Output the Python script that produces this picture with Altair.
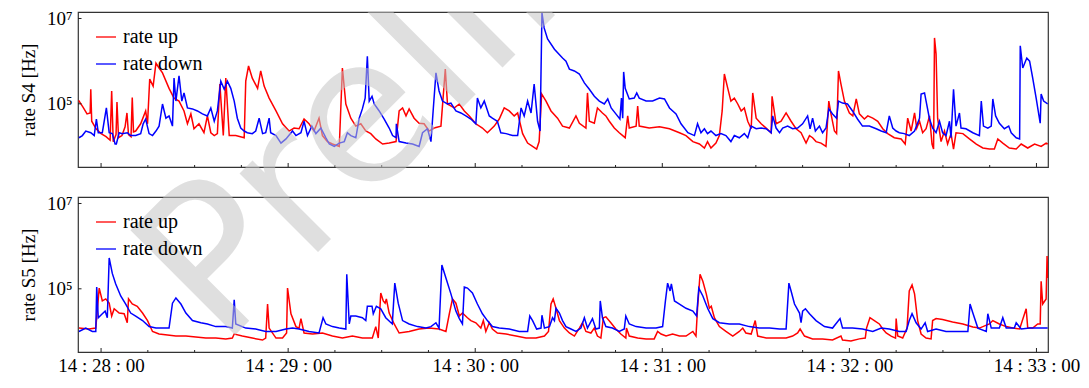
import base64
import altair as alt
import pandas as pd

# ---------------- data (seconds after 14:28:00, rate in Hz) ----------------
S4_UP_T = [-7.2, -5.8, -4.5, -3.5, -3.3, -3.0, -1.6, 0.0, 1.6, 2.9, 3.4, 3.9, 4.8, 5.1, 5.6, 6.7, 7.7, 8.3, 8.8, 9.6,
           10.0, 10.4, 11.1, 12.7, 14.3, 14.9, 15.6, 16.7, 17.6, 18.6, 19.7, 21.8, 23.4, 25.0, 26.6, 27.7, 28.8, 29.8,
           31.4, 33.0, 34.1, 35.2, 36.3, 37.3, 38.1, 39.2, 40.0, 41.1, 43.2, 45.9, 46.4, 47.3, 48.5, 50.2, 51.2, 52.3,
           53.9, 56.1, 58.2, 60.3, 61.9, 63.5, 65.1, 66.7, 68.3, 69.9, 71.0, 72.6, 74.2, 76.4, 77.4, 78.5, 80.1, 81.7,
           83.3, 84.9, 86.5, 88.1, 90.3, 92.4, 94.6, 95.6, 96.7, 97.8, 98.8, 100.4, 102.0, 103.6, 105.2, 106.8, 109.0,
           110.4, 111.1, 113.3, 114.9, 116.5, 118.1, 120.2, 122.3, 123.9, 126.1, 127.7, 129.3, 130.9, 132.5, 133.6,
           135.2, 136.8, 138.4, 139.7, 140.5, 141.3, 142.7, 144.3, 146.4, 148.0, 150.2, 152.3, 153.4, 155.5, 156.0,
           156.6, 158.2, 159.2, 160.8, 161.9, 163.0, 164.6, 166.2, 167.3, 168.1, 168.9, 169.4, 171.6, 172.1, 172.6,
           175.8, 179.1, 182.3, 185.5, 187.6, 189.8, 191.9, 193.5, 194.5, 195.6, 197.2, 198.3, 199.2, 199.9, 201.0,
           202.0, 203.1, 204.2, 205.3, 206.3, 207.4, 208.5, 209.0, 210.1, 211.7, 213.3, 214.9, 215.2, 216.5, 218.1,
           219.7, 221.3, 222.9, 224.5, 226.1, 227.2, 228.2, 229.3, 230.9, 232.5, 233.4, 234.1, 235.2, 235.9, 236.5,
           237.3, 238.4, 240.0, 241.1, 242.2, 243.2, 244.8, 245.9, 247.5, 249.1, 250.7, 252.3, 254.4, 256.6, 257.9,
           258.7, 259.8, 260.9, 261.6, 262.5, 263.5, 264.6, 265.7, 266.5, 267.0, 267.3, 267.8, 268.3, 269.4, 270.5,
           271.5, 272.6, 273.4, 274.2, 276.4, 278.5, 280.7, 282.8, 284.9, 286.5, 287.6, 289.2, 291.3, 293.5, 295.1,
           297.2, 299.4, 301.5, 303.1, 303.6]
S4_UP_RATE = [1.2e5, 8.4e4, 5.8e4, 6.1e4, 2.2e5, 3.9e4, 2.6e4, 2.0e4, 1.7e4, 1.4e4, 2.0e5, 1.3e4, 1.9e4, 1.1e5, 1.6e4,
              1.8e4, 2.9e4, 6.1e4, 1.9e4, 1.7e4, 1.4e5, 2.2e4, 2.3e4, 3.4e4, 6.8e4, 3.4e4, 3.8e5, 2.6e5, 9.0e5, 6.9e5,
              5.3e5, 2.3e5, 1.36e5, 1.16e5, 6.8e4, 3.4e4, 5.8e4, 2.6e4, 3.4e4, 2.1e4, 5.2e4, 2.1e4, 1.8e4, 2.0e4,
              2.9e5, 1.8e4, 4.0e5, 1.8e4, 1.8e4, 1.6e4, 3.4e5, 7.7e5, 4.0e5, 2.3e5, 5.9e5, 2.6e5, 1.36e5, 6.8e4,
              3.4e4, 2.3e4, 2.7e4, 2.6e4, 4.4e4, 3.4e4, 2.3e4, 4.6e4, 1.8e4, 1.3e4, 1.14e4, 1.0e4, 6.9e5, 9.9e4,
              4.6e4, 3.0e4, 3.4e4, 2.3e4, 2.0e4, 1.5e4, 1.14e4, 1.2e4, 1.3e4, 6.8e4, 8.0e4, 5.2e4, 7.6e4, 4.6e4,
              3.5e4, 3.4e4, 2.3e4, 2.7e4, 3.0e4, 6.5e5, 9.9e4, 8.0e4, 9.9e4, 6.8e4, 5.2e4, 3.4e4, 2.7e4, 2.1e4,
              3.0e4, 4.4e4, 8.0e4, 6.8e4, 5.2e4, 6.1e4, 2.0e4, 1.2e4, 1.0e4, 8.7e3, 1.3e4, 1.7e5, 1.16e5, 6.8e4,
              4.6e4, 3.0e4, 2.7e4, 5.2e4, 3.5e4, 2.7e4, 1.8e5, 3.9e4, 3.5e4, 8.0e4, 6.1e4, 5.2e4, 3.9e4, 2.7e4,
              2.1e4, 1.8e4, 1.6e4, 5.2e4, 2.7e4, 3.0e4, 8.9e4, 3.0e4, 2.7e4, 2.9e4, 2.6e4, 2.1e4, 1.8e4, 1.3e4,
              1.14e4, 9.2e3, 1.3e4, 9.2e3, 1.2e4, 1.8e4, 6.8e4, 5.0e5, 2.3e5, 1.16e5, 1.36e5, 9.9e4, 6.8e4, 8.0e4,
              3.9e4, 2.6e4, 1.8e5, 4.6e4, 3.4e4, 2.7e4, 2.1e4, 1.5e5, 3.4e4, 3.9e4, 6.1e4, 3.9e4, 2.6e4, 2.1e4,
              1.2e4, 1.8e4, 1.6e4, 1.3e4, 1.2e4, 1.0e4, 1.16e5, 5.8e4, 2.3e4, 2.0e4, 5.9e5, 2.9e5, 1.16e5, 6.1e4,
              5.2e4, 1.3e5, 5.8e4, 4.4e4, 5.2e4, 4.6e4, 3.9e4, 2.6e4, 2.0e4, 1.6e4, 1.5e4, 1.14e4, 4.6e4, 2.3e4,
              6.1e4, 2.7e4, 3.9e4, 2.1e4, 2.6e4, 5.2e4, 1.14e4, 8.7e3, 3.5e6, 1.47e6, 4.6e4, 1.3e4, 2.3e4, 1.14e4,
              2.0e4, 8.7e3, 2.1e4, 2.0e4, 1.5e4, 1.14e4, 9.2e3, 8.7e3, 8.7e3, 1.5e4, 1.2e4, 9.2e3, 8.7e3, 1.14e4,
              9.2e3, 1.14e4, 1.0e4, 1.2e4, 1.14e4]

S4_DOWN_T = [-7.1, -6.0, -4.9, -3.3, -2.2, -1.5, -0.9, 0.4, 1.7, 2.6, 3.6, 4.5, 4.9, 5.8, 6.8, 8.4, 9.5, 11.1, 12.7,
             13.5, 14.3, 15.4, 16.5, 17.6, 18.6, 19.7, 20.8, 21.8, 22.9, 23.4, 24.0, 25.0, 25.9, 26.6, 27.7, 29.3,
             30.9, 32.5, 34.1, 35.2, 36.3, 37.3, 38.4, 39.5, 40.5, 41.6, 42.7, 43.7, 44.8, 45.9, 46.9, 48.5, 49.6,
             50.7, 51.8, 52.8, 53.9, 54.4, 56.1, 57.7, 59.3, 61.4, 62.5, 64.1, 65.1, 66.2, 67.6, 68.9, 70.5, 72.1,
             73.2, 74.8, 76.4, 78.0, 79.0, 80.1, 81.7, 82.8, 83.8, 84.7, 85.4, 86.0, 86.9, 87.6, 89.2, 90.8, 92.4,
             93.5, 94.6, 94.7, 95.6, 97.8, 99.9, 102.0, 103.1, 104.7, 105.8, 106.5, 107.4, 108.4, 109.5, 111.1,
             112.2, 113.8, 115.4, 117.0, 118.6, 120.2, 120.7, 121.8, 122.9, 124.5, 125.5, 127.1, 128.2, 129.9, 132.0,
             133.6, 134.7, 135.7, 136.8, 137.9, 138.9, 140.0, 140.8, 141.4, 142.1, 143.2, 145.4, 148.0, 149.1, 150.2,
             151.8, 153.4, 155.0, 156.6, 158.2, 159.8, 161.4, 162.5, 163.6, 165.1, 166.4, 166.9, 167.3, 167.6, 168.1,
             169.4, 171.0, 171.8, 172.6, 174.8, 176.9, 179.1, 180.7, 182.3, 184.4, 186.0, 188.2, 190.3, 191.3, 192.4,
             193.5, 194.5, 195.6, 197.2, 198.8, 200.4, 202.0, 203.1, 204.7, 206.3, 207.4, 208.5, 210.1, 211.7, 213.3,
             214.9, 215.4, 216.5, 217.6, 218.6, 220.2, 221.8, 223.4, 225.0, 226.6, 227.4, 228.2, 229.1, 230.4, 231.4,
             232.5, 233.4, 234.6, 235.9, 236.5, 237.8, 239.4, 241.0, 242.6, 244.2, 246.4, 248.6, 250.2, 251.8, 252.8,
             253.9, 255.0, 256.0, 257.6, 259.2, 260.9, 262.5, 263.0, 264.1, 264.6, 265.7, 266.7, 267.8, 268.9, 269.9,
             271.0, 272.1, 272.6, 273.4, 274.2, 275.3, 275.8, 277.4, 279.6, 281.7, 282.3, 283.0, 284.4, 285.5, 286.0,
             286.9, 288.1, 289.7, 291.1, 291.9, 293.5, 294.6, 294.8, 295.6, 296.9, 297.8, 298.8, 299.9, 301.2, 301.5,
             302.3, 303.6]
S4_DOWN_RATE = [1.6e4, 1.8e4, 2.3e4, 2.1e4, 1.8e4, 4.4e4, 2.1e4, 2.1e4, 8.0e4, 2.1e4, 2.0e4, 1.14e4, 1.14e4, 2.1e4,
                2.0e4, 2.1e4, 1.8e4, 1.8e4, 2.0e4, 3.4e4, 4.4e4, 2.0e4, 1.8e4, 2.3e4, 3.0e4, 9.9e4, 4.6e4, 5.2e4,
                3.0e4, 4.0e5, 1.16e5, 4.5e5, 1.16e5, 1.8e5, 8.0e4, 7.6e4, 6.8e4, 5.8e4, 5.2e4, 8.0e4, 3.9e4, 6.8e4,
                3.4e5, 2.2e5, 3.4e5, 2.3e5, 1.16e5, 4.6e4, 2.7e4, 2.3e4, 2.1e4, 2.0e4, 2.3e4, 4.6e4, 2.0e4, 2.1e4,
                4.6e4, 2.1e4, 1.8e4, 1.2e4, 1.5e4, 2.3e4, 1.8e4, 2.1e4, 3.9e4, 1.8e4, 3.0e4, 2.0e4, 2.7e4, 1.6e4,
                1.14e4, 1.0e4, 1.2e4, 1.3e4, 2.1e4, 1.8e4, 1.6e4, 4.6e4, 7.6e4, 1.36e5, 1.3e6, 1.16e5, 1.5e5, 9.9e4,
                6.8e4, 4.4e4, 2.7e4, 1.8e4, 1.6e4, 3.4e4, 1.3e4, 1.2e4, 1.14e4, 1.0e4, 2.1e4, 2.6e4, 1.3e4, 6.8e4,
                5.3e5, 2.0e5, 1.16e5, 9.9e4, 1.04e5, 6.8e4, 6.1e4, 5.2e4, 4.4e4, 3.4e4, 1.36e5, 8.0e4, 1.16e5,
                5.2e4, 4.6e4, 3.9e4, 2.1e4, 2.0e4, 1.8e4, 1.8e4, 8.0e4, 5.2e4, 1.16e5, 6.1e4, 2.9e5, 3.9e4, 2.3e4,
                1.35e7, 6.0e6, 3.3e6, 1.9e6, 1.18e6, 1.0e6, 6.5e5, 5.9e5, 5.0e5, 3.1e5, 2.2e5, 1.5e5, 1.16e5, 9.9e4,
                1.3e5, 8.0e4, 5.8e4, 4.4e4, 1.36e5, 4.6e4, 5.6e5, 2.3e5, 1.3e5, 1.36e5, 1.8e5, 1.36e5, 1.16e5,
                1.16e5, 1.36e5, 1.3e5, 8.0e4, 5.8e4, 3.4e4, 2.1e4, 1.8e4, 3.4e4, 2.1e4, 2.6e4, 2.0e4, 2.3e4, 1.8e4,
                2.0e4, 1.8e4, 1.3e4, 1.8e4, 1.6e4, 2.0e4, 1.6e4, 3.0e4, 2.6e4, 2.7e4, 2.6e4, 2.1e4, 5.2e4, 2.7e4,
                2.1e4, 2.7e4, 3.0e4, 2.6e4, 2.7e4, 3.4e4, 5.2e4, 2.6e4, 4.6e4, 2.3e4, 3.0e4, 2.1e4, 2.7e4, 7.6e4,
                5.8e4, 4.6e4, 1.16e5, 1.04e5, 9.9e4, 6.8e4, 4.4e4, 3.0e4, 3.0e4, 2.6e4, 2.3e4, 2.1e4, 5.2e4, 2.7e4,
                2.3e4, 2.1e4, 2.0e4, 1.8e4, 2.3e4, 4.6e4, 1.7e5, 1.8e5, 1.16e5, 4.4e4, 2.7e4, 2.1e4, 3.9e4, 2.1e4,
                1.8e4, 3.9e4, 1.6e4, 2.2e5, 3.0e4, 6.1e4, 2.7e4, 2.6e4, 2.1e4, 1.8e4, 1.16e5, 3.0e4, 2.7e4, 3.0e4,
                1.3e5, 5.2e4, 3.5e4, 2.6e4, 3.0e4, 2.1e4, 1.6e4, 1.5e4, 2.3e6, 6.9e5, 1.18e6, 1.0e6, 4.0e5, 1.36e5,
                3.5e4, 1.7e5, 1.16e5, 9.9e4]

S5_UP_T = [-7.1, -3.9, -1.7, -0.6, 0.4, 1.5, 2.6, 3.4, 4.2, 5.8, 7.4, 8.4, 8.8, 10.0, 11.6, 13.3, 14.9, 16.5, 18.6,
           21.3, 24.0, 27.2, 30.4, 33.6, 36.8, 40.0, 42.1, 42.7, 45.3, 48.5, 51.8, 52.8, 53.4, 53.9, 56.1, 58.2, 59.5,
           59.8, 60.9, 62.5, 63.5, 64.1, 65.1, 67.8, 71.0, 74.2, 77.4, 80.6, 83.8, 87.0, 88.1, 88.9, 89.7, 90.5, 91.1,
           91.5, 92.4, 94.0, 95.6, 98.8, 102.0, 105.2, 108.4, 110.6, 111.7, 112.7, 113.8, 114.9, 115.9, 117.5, 118.6,
           120.2, 121.8, 122.6, 123.4, 124.5, 125.5, 127.1, 129.9, 133.1, 136.3, 139.5, 142.2, 143.5, 144.3, 145.0,
           145.9, 147.0, 148.6, 150.2, 151.8, 153.4, 154.4, 155.5, 157.1, 158.2, 159.2, 160.3, 161.1, 161.9, 163.5,
           165.1, 166.7, 168.3, 168.5, 169.4, 172.1, 174.8, 177.4, 178.5, 179.6, 181.2, 183.3, 185.5, 187.6, 189.8,
           190.8, 191.3, 192.1, 193.0, 194.1, 195.1, 195.7, 196.7, 198.3, 200.4, 202.6, 204.7, 205.8, 206.8, 208.5,
           209.8, 210.6, 213.3, 216.5, 219.7, 221.8, 223.4, 224.2, 225.6, 228.2, 231.4, 234.6, 237.3, 237.8, 240.5,
           243.2, 245.1, 245.5, 246.6, 248.0, 249.6, 250.7, 251.8, 253.4, 254.8, 255.0, 255.5, 257.1, 258.5, 259.2,
           260.1, 260.9, 261.9, 263.0, 264.6, 266.2, 266.7, 267.8, 269.9, 273.1, 276.4, 279.6, 281.7, 284.9, 286.0,
           288.1, 290.3, 292.4, 294.6, 296.7, 297.2, 298.8, 300.4, 301.2, 301.5, 302.0, 303.1, 303.4, 303.6]
S5_UP_RATE = [1.2e4, 1.14e4, 1.2e4, 1.04e5, 5.2e4, 5.8e4, 4.6e4, 2.3e4, 3.4e4, 2.7e4, 2.6e4, 1.6e4, 5.8e4, 4.4e4,
              3.9e4, 2.7e4, 1.8e4, 1.0e4, 8.7e3, 8.3e3, 7.8e3, 7.8e3, 7.4e3, 7.0e3, 7.0e3, 6.7e3, 7.0e3, 8.7e3,
              7.8e3, 7.0e3, 6.3e3, 7.0e3, 4.4e4, 1.2e4, 7.0e3, 7.0e3, 9.2e3, 1.04e5, 2.6e4, 1.3e4, 1.2e4, 2.0e4,
              9.2e3, 8.7e3, 9.2e3, 7.8e3, 7.0e3, 7.8e3, 7.0e3, 7.0e3, 1.3e4, 7.0e3, 8.0e4, 5.2e4, 4.6e4, 5.8e4,
              2.7e4, 1.5e4, 9.2e3, 1.0e4, 1.14e4, 1.2e4, 1.14e4, 1.0e4, 2.6e4, 5.8e4, 4.6e4, 2.3e4, 2.7e4, 2.1e4,
              1.8e4, 1.6e4, 1.2e4, 1.8e4, 1.0e4, 1.6e4, 1.14e4, 9.2e3, 8.7e3, 7.8e3, 7.0e3, 7.0e3, 7.8e3, 1.0e4,
              4.4e4, 5.8e4, 3.5e4, 1.8e4, 1.2e4, 9.2e3, 7.8e3, 1.2e4, 1.6e4, 1.0e4, 9.2e3, 1.2e4, 7.8e3, 7.0e3,
              2.1e4, 2.2e4, 1.6e4, 1.14e4, 8.7e3, 7.0e3, 1.2e4, 7.8e3, 7.0e3, 6.7e3, 6.7e3, 1.0e4, 8.7e3, 7.8e3,
              8.7e3, 7.8e3, 7.8e3, 1.0e4, 7.8e3, 3.5e4, 2.2e5, 1.5e5, 7.6e4, 3.5e4, 3.9e4, 2.1e4, 1.3e4, 1.0e4,
              7.8e3, 1.0e4, 1.2e4, 9.2e3, 8.7e3, 1.8e4, 7.8e3, 7.0e3, 7.0e3, 7.0e3, 7.8e3, 9.2e3, 1.14e4, 7.8e3,
              6.7e3, 6.7e3, 6.3e3, 7.8e3, 6.3e3, 6.0e3, 6.7e3, 7.0e3, 1.2e4, 2.1e4, 1.8e4, 1.5e4, 1.14e4, 9.2e3,
              7.8e3, 7.0e3, 2.0e4, 7.8e3, 7.0e3, 1.2e4, 8.9e4, 1.23e5, 7.6e4, 1.8e4, 8.7e3, 7.0e3, 6.7e3, 1.8e4,
              2.0e4, 1.9e4, 1.66e4, 1.5e4, 1.27e4, 1.2e4, 1.5e4, 1.8e4, 1.5e4, 1.3e4, 1.2e4, 1.14e4, 3.4e4, 1.2e4,
              1.2e4, 1.5e4, 1.5e4, 1.5e5, 4.4e4, 5.8e4, 5.9e5, 1.8e5]

S5_DOWN_T = [-7.1, -4.9, -2.8, -1.7, -1.4, -0.9, 0.4, 1.3, 2.0, 2.6, 3.6, 4.7, 6.3, 7.9, 9.5, 11.1, 13.3, 15.4, 17.6,
             19.7, 21.8, 22.9, 24.0, 25.6, 27.2, 29.3, 32.0, 34.1, 36.8, 40.0, 42.1, 42.7, 43.2, 46.4, 49.6, 52.8,
             56.1, 59.3, 61.4, 63.5, 66.7, 69.9, 71.2, 72.1, 74.2, 76.4, 78.5, 78.8, 79.6, 80.1, 81.7, 83.8, 84.9,
             85.4, 86.9, 87.3, 88.3, 89.7, 91.3, 93.4, 94.2, 95.3, 96.7, 98.8, 101.5, 104.2, 105.8, 107.4, 108.4,
             109.3, 110.6, 112.2, 113.8, 114.9, 115.9, 116.5, 117.5, 119.1, 120.7, 122.3, 123.9, 125.5, 127.7, 130.9,
             134.1, 136.8, 137.5, 138.4, 139.7, 141.1, 141.4, 142.2, 143.8, 144.8, 145.4, 145.9, 147.0, 148.0, 149.1,
             150.7, 152.3, 153.9, 155.0, 156.0, 157.6, 158.7, 159.8, 160.1, 160.8, 161.9, 164.0, 166.2, 167.8, 168.3,
             169.4, 171.6, 174.8, 178.0, 180.1, 181.0, 181.7, 182.5, 182.9, 183.9, 185.5, 187.6, 189.8, 191.0, 191.7,
             193.0, 194.6, 196.2, 198.3, 201.5, 204.7, 207.9, 211.1, 214.4, 217.6, 219.7, 220.6, 221.3, 222.4, 224.0,
             224.5, 225.0, 225.9, 227.2, 229.3, 232.0, 234.6, 237.0, 237.8, 241.0, 244.2, 247.5, 250.2, 252.8, 256.0,
             258.2, 259.2, 260.1, 261.4, 263.0, 264.3, 265.1, 267.8, 271.0, 274.2, 278.0, 278.7, 279.6, 281.2, 283.9,
             284.4, 285.5, 288.1, 289.2, 290.3, 292.9, 293.5, 295.1, 297.8, 300.4, 303.1, 303.6]
S5_DOWN_RATE = [1.0e4, 1.2e4, 1.0e4, 1.0e4, 1.1e5, 2.1e4, 2.6e4, 3.0e4, 2.1e4, 5.3e5, 2.3e5, 1.3e5, 6.8e4, 4.4e4,
                2.7e4, 2.3e4, 1.8e4, 1.3e4, 1.2e4, 1.2e4, 1.2e4, 4.6e4, 6.1e4, 4.4e4, 2.7e4, 1.8e4, 1.6e4, 1.5e4,
                1.3e4, 1.3e4, 1.2e4, 5.5e4, 1.5e4, 1.2e4, 1.14e4, 1.0e4, 1.0e4, 1.14e4, 1.2e4, 1.14e4, 1.0e4, 9.2e3,
                2.1e4, 1.5e4, 1.3e4, 1.2e4, 1.14e4, 2.2e5, 1.5e4, 2.3e4, 2.3e4, 2.1e4, 1.8e4, 3.9e4, 3.9e4, 2.6e4,
                3.9e4, 3.4e4, 2.1e4, 1.5e4, 1.36e5, 4.6e4, 1.8e4, 1.5e4, 1.3e4, 1.2e4, 1.3e4, 1.6e4, 1.2e4, 3.6e5,
                1.8e5, 7.6e4, 3.0e4, 2.0e4, 1.5e4, 1.1e5, 1.04e5, 8.0e4, 4.4e4, 2.6e4, 1.8e4, 1.3e4, 1.2e4, 1.14e4,
                1.0e4, 1.0e4, 2.3e4, 1.8e4, 1.14e4, 1.2e4, 2.4e4, 1.2e4, 1.3e4, 2.1e4, 1.8e4, 3.5e4, 2.7e4, 1.8e4,
                1.3e4, 1.14e4, 1.0e4, 1.2e4, 2.1e4, 1.2e4, 2.0e4, 1.14e4, 1.2e4, 5.2e4, 2.1e4, 1.3e4, 1.2e4, 1.0e4,
                1.14e4, 2.3e4, 1.5e4, 1.3e4, 1.2e4, 1.2e4, 1.3e4, 5.2e4, 1.36e5, 8.9e4, 1.3e5, 5.2e4, 4.4e4, 3.5e4,
                3.0e4, 2.3e4, 1.04e5, 6.8e4, 3.4e4, 2.0e4, 1.6e4, 1.5e4, 1.5e4, 1.3e4, 1.2e4, 1.2e4, 1.14e4, 1.14e4,
                1.36e5, 8.9e4, 4.4e4, 2.7e4, 1.6e4, 3.0e4, 3.4e4, 2.6e4, 1.8e4, 1.3e4, 1.2e4, 2.0e4, 1.2e4, 1.2e4,
                1.14e4, 1.0e4, 1.2e4, 1.14e4, 1.0e4, 1.0e4, 1.8e4, 2.6e4, 1.6e4, 1.14e4, 1.6e4, 1.0e4, 1.14e4, 1.0e4,
                1.0e4, 1.0e4, 4.4e4, 2.7e4, 1.2e4, 1.0e4, 2.6e4, 1.2e4, 1.2e4, 2.1e4, 1.2e4, 1.2e4, 1.6e4, 1.14e4,
                1.2e4, 1.2e4, 1.2e4, 1.2e4]

SERIES = ["rate up", "rate down"]
COLORS = ["#ff0000", "#0000ff"]
PANEL_TITLES = ["rate S4 [Hz]", "rate S5 [Hz]"]
X_MAJOR = [0, 60, 120, 180, 240, 300]
X_MINOR = [15, 30, 45, 75, 90, 105, 135, 150, 165, 195, 210, 225, 255, 270, 285]
Y_TICKS = [1e5, 1e7]
X_DOMAIN = [-7.4, 303.7]
Y_DOMAIN = [3300, 1.42e7]
WATERMARK = "Preliminary"

# ---------------- layout / style ----------------
W, H = 970, 155
FONT = "Liberation Serif"
FS = 19

wm_w, wm_h = 560, 349
wm_svg = (
    f'<svg xmlns="http://www.w3.org/2000/svg" width="{wm_w}" height="{wm_h}" viewBox="0 0 {wm_w} {wm_h}">'
    f'<text x="162" y="337" transform="rotate(-45 162 337)" font-family="DejaVu Sans" font-size="203" '
    f'fill="#c4c4c4" fill-opacity="0.55">{WATERMARK}</text></svg>'
)
wm_uri = "data:image/svg+xml;base64," + base64.b64encode(wm_svg.encode("utf-8")).decode("ascii")


def series_df(t, r, name):
    return pd.DataFrame({"t": t, "rate": r, "series": name})


def panel(up_t, up_r, dn_t, dn_r, ylabel, bottom):
    xs = alt.Scale(domain=X_DOMAIN, nice=False, zero=False)
    ys = alt.Scale(type="log", domain=Y_DOMAIN, nice=False)
    cs = alt.Scale(domain=SERIES, range=COLORS)
    if bottom:
        xaxis = alt.Axis(values=X_MAJOR, labelExpr="'14 : ' + (28 + round(datum.value / 60)) + ' : 00'",
                         ticks=False, domain=False, grid=False, labelFont=FONT, labelFontSize=FS,
                         labelColor="black", labelPadding=4, title=None, labelFlush=False)
    else:
        xaxis = None
    yaxis = alt.Axis(values=Y_TICKS, labelExpr="datum.value > 1e6 ? '10\u2077' : '10\u2075'",
                     ticks=False, domain=False, grid=False, labelFont=FONT, labelFontSize=FS,
                     labelColor="black", labelPadding=6, title=ylabel, titleFont=FONT, titleFontSize=FS,
                     titleFontWeight="normal", titleColor="black", titlePadding=8)
    legend = alt.Legend(title=None, orient="none", legendX=17, legendY=14, symbolType="stroke",
                        symbolSize=400, symbolStrokeWidth=1.3, labelFont=FONT, labelFontSize=20,
                        labelColor="black", labelOffset=6, rowPadding=6, padding=0)
    X = alt.X("t:Q", scale=xs, axis=xaxis)
    Y = alt.Y("rate:Q", scale=ys, axis=yaxis)
    C = alt.Color("series:N", scale=cs, legend=legend)

    up = alt.Chart(series_df(up_t, up_r, SERIES[0])).mark_line(strokeWidth=1.5, clip=True).encode(x=X, y=Y, color=C)
    dn = alt.Chart(series_df(dn_t, dn_r, SERIES[1])).mark_line(strokeWidth=1.5, clip=True).encode(x=X, y=Y, color=C)
    major = alt.Chart(pd.DataFrame({"t": X_MAJOR})).mark_rule(color="#222", strokeWidth=1).encode(
        x=X, y=alt.value(H), y2=alt.value(H - 4))
    minor = alt.Chart(pd.DataFrame({"t": X_MINOR})).mark_rule(color="#222", strokeWidth=1).encode(
        x=X, y=alt.value(H), y2=alt.value(H - 2))
    yt = alt.Chart(pd.DataFrame({"rate": Y_TICKS})).mark_rule(color="#222", strokeWidth=1).encode(
        y=Y, x=alt.value(0), x2=alt.value(3.5))
    layers = [up, dn, major, minor, yt]
    if bottom:
        wm = alt.Chart(pd.DataFrame({"u": [wm_uri]})).mark_image(
            align="left", baseline="top", aspect=False, width=wm_w, height=wm_h
        ).encode(url="u:N", x=alt.value(-19), y=alt.value(-185))
        layers.append(wm)
    return alt.layer(*layers).properties(width=W, height=H)


top = panel(S4_UP_T, S4_UP_RATE, S4_DOWN_T, S4_DOWN_RATE, PANEL_TITLES[0], False)
bot = panel(S5_UP_T, S5_UP_RATE, S5_DOWN_T, S5_DOWN_RATE, PANEL_TITLES[1], True)

chart = (
    alt.vconcat(top, bot, spacing=30, bounds="flush")
    .resolve_scale(color="independent", x="independent", y="independent")
    .properties(padding={"left": 10, "top": 0, "right": 0, "bottom": 0}, background="white")
    .configure_view(stroke="#333", strokeWidth=1.2)
)

chart.save("out.html", embed_options={"renderer": "svg", "actions": False})
